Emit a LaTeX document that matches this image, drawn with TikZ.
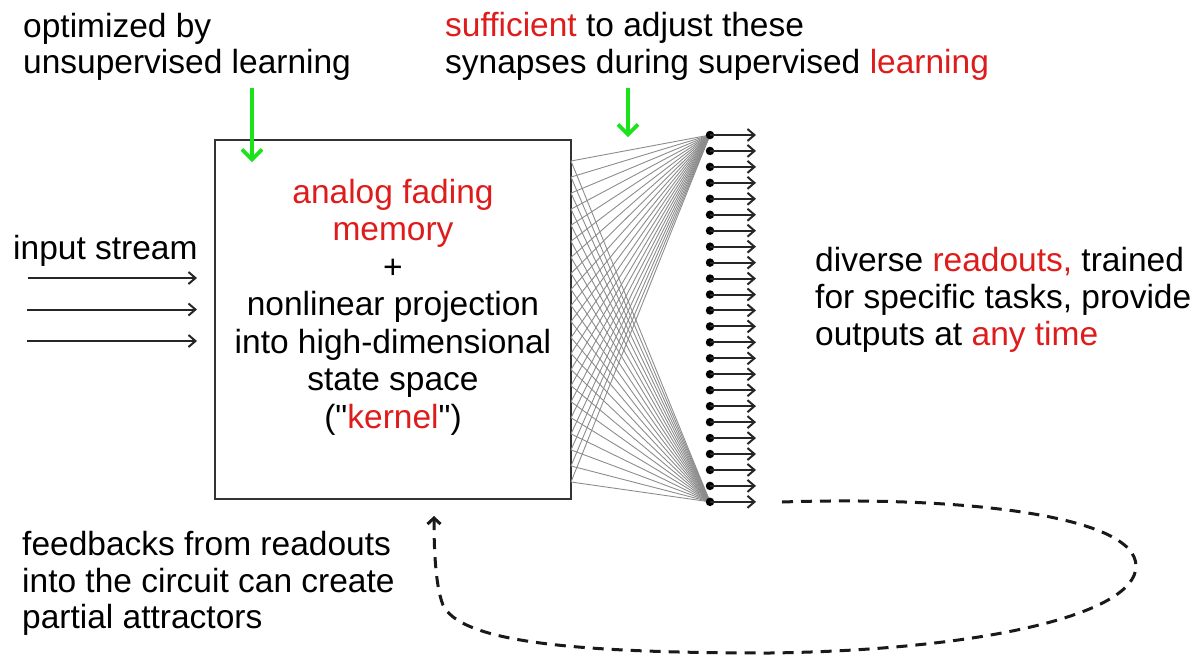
\documentclass[tikz,border=0pt]{standalone}
\usepackage{fontspec}
\setmainfont{Liberation Sans}
\newfontfamily\quotefont{Liberation Sans}[Ligatures=TeXOff]
\usetikzlibrary{arrows.meta}
\definecolor{txtred}{RGB}{222,28,28}
\definecolor{arrgreen}{RGB}{25,228,25}
\definecolor{linegray}{RGB}{140,140,140}
\begin{document}
\begin{tikzpicture}[x=1pt,y=-1pt,
  font=\fontsize{33.5}{37}\selectfont,
  txt/.style={anchor=base west, inner sep=0pt},
  ctxt/.style={anchor=base, inner sep=0pt},
  red/.style={text=txtred},
  inarrow/.style={draw=black!85, line width=2pt, -{Straight Barb[length=7pt,width=12pt]}},
  outarrow/.style={draw=black!85, line width=2pt, -{Straight Barb[length=7pt,width=12pt]}},
  gline/.style={draw=linegray, line width=0.9pt},
  rdot/.style={circle, fill=black, inner sep=0pt, minimum size=8.5pt},
  garrow/.style={draw=arrgreen, line width=3.6pt, -{Straight Barb[length=10pt,width=20pt]}},
  fb/.style={draw=black!90, line width=3pt, dash pattern=on 11pt off 8pt, -{Straight Barb[length=6pt,width=13pt]}},
  boxstyle/.style={draw=black!80, line width=1.7pt, minimum width=356pt, minimum height=359pt, inner sep=0pt}
]
\useasboundingbox (0,0) rectangle (1203,657);

% box
\node[boxstyle] (box) at (393,319.5) {};

% box text
\node[ctxt,red] (b1) at (393,203) {analog fading};
\node[ctxt,red] (b2) at (393,240.5) {memory};
\node[ctxt] (b3) at (393,278) {+};
\node[ctxt] (b4) at (393,315.5) {nonlinear projection};
\node[ctxt] (b5) at (393,353) {into high-dimensional};
\node[ctxt] (b6) at (393,390.5) {state space};
\node[ctxt] (b7) at (393,428) {({\quotefont"}\textcolor{txtred}{kernel}{\quotefont"})};

% top left text
\node[txt] (t1) at (23,37) {optimized by};
\node[txt] (t2) at (23,73) {unsupervised learning};
\coordinate (g1s) at (252,88);
\coordinate (g1e) at (252,162);
\draw[garrow] (g1s) -- (g1e);

% top middle text
\node[txt] (u1) at (445,36) {\textcolor{txtred}{sufficient} to adjust these};
\node[txt] (u2) at (445,73) {synapses during supervised \textcolor{txtred}{learning}};
\coordinate (g2s) at (628,88);
\coordinate (g2e) at (628,137);
\draw[garrow] (g2s) -- (g2e);

% input stream
\node[txt] (in) at (13,259) {input stream};
\foreach \k/\y/\xs in {1/278/28,2/309.5/27,3/341/27}{
  \coordinate (is\k) at (\xs,\y);
  \coordinate (ie\k) at (197,\y);
  \draw[inarrow] (is\k) -- (ie\k);
}

% readout positions
\foreach \i in {0,...,23}{
  \coordinate (p\i) at (710,{135+15.95*\i});
}
% connections
\foreach \j in {0,...,20}{
  \coordinate (s\j) at (571,{161+16.05*\j});
  \draw[gline] (s\j) -- (p0);
  \draw[gline] (s\j) -- (p23);
}
% readouts
\foreach \i in {0,...,23}{
  \node[rdot] (r\i) at (p\i) {};
  \coordinate (o\i) at (756,{135+15.95*\i});
  \draw[outarrow] (r\i.center) -- (o\i);
}

% right text
\node[txt] (v1) at (815,271) {diverse \textcolor{txtred}{readouts,} trained};
\node[txt] (v2) at (815,308) {for specific tasks, provide};
\node[txt] (v3) at (815,345) {outputs at \textcolor{txtred}{any time}};

% bottom left text
\node[txt] (w1) at (22,555) {feedbacks from readouts};
\node[txt] (w2) at (22,592) {into the circuit can create};
\node[txt] (w3) at (22,628) {partial attractors};

% feedback loop
\coordinate (fbs) at (782,502);
\coordinate (fbe) at (434,516);
\draw[fb] (fbs) .. controls (960,496) and (1136,515) .. (1136,566)
  .. controls (1136,615) and (980,650) .. (770,653)
  .. controls (560,653) and (460,640) .. (443,605)
  .. controls (435,585) and (434,545) .. (fbe);
\end{tikzpicture}
\end{document}
